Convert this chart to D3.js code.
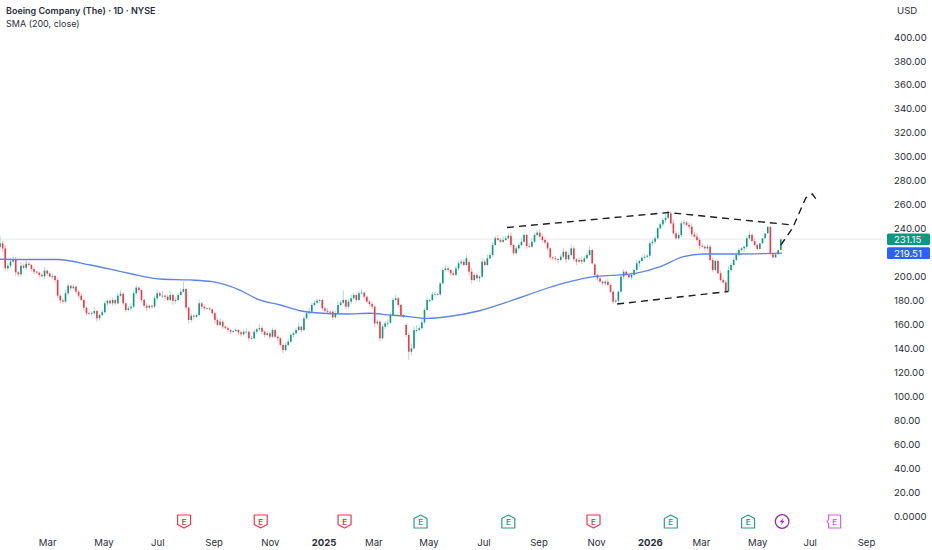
<!DOCTYPE html>
<html>
<head>
<meta charset="utf-8">
<script src="https://d3js.org/d3.v7.min.js"></script>
<style>
  html, body { margin: 0; padding: 0; background: #fff; }
  svg { display: block; }
  text { font-family: "Inter", "Noto Sans", sans-serif; }
</style>
</head>
<body>
<div id="chart"></div>
<script type="text/javascript">

// daily closes, one candle per two sessions
var closes = [
  227.7,223.5,206.8,209,212.4,214.6,203.5,201.8,209,207.3,
  210.7,209.6,206.3,204,203.2,201.3,200.2,204.9,202.4,199.9,
  200.4,197,184,180.1,179,186,192.3,190.2,191.5,187.3,
  184,180.4,173.9,169.3,168.9,169.3,171.2,165.1,167.8,170.1,
  177.6,179.8,177.6,180.4,177.6,184,185.6,177.6,172,173.4,
  174.8,186,190.7,188.7,180.4,175.6,174,175.6,174.8,181.8,
  186,184,184,183.1,180.4,184.6,179.5,180.4,184.6,187.3,
  189.6,174,163.7,167.3,166.4,167.8,177.6,174.8,173.4,173.4,
  172.6,169.3,163.7,159.5,162.3,158.1,156.8,155.3,153.9,154.5,
  155.3,153.4,151.7,153.9,153.9,148.4,148.4,153.9,155.9,157,
  153.9,151.2,152.6,149.7,155.3,149.7,148.4,142.8,138.6,142.8,
  145.6,151.2,152.6,155.3,158.1,155.3,165.1,169.3,170.6,176.2,
  178.1,179.8,180.4,173.4,171.4,170.6,170.6,165.9,169.3,176.2,
  178.1,180.4,174.8,179,181.8,184.6,180.4,186,186.5,183.1,
  179,177,174.8,160.9,162.3,148.4,158.1,160.9,161.4,167.8,
  180.4,181.8,176.2,167.8,166.4,151.2,137.2,140,155.3,155.3,
  156.8,161.7,172,180.4,180.4,185.1,185.4,185,194.3,205.4,
  206.8,205.4,202.7,201.3,206.8,211,212.4,209.6,215.2,204,
  197,201.3,198.5,199.9,212.4,209.6,215.2,218,226.3,231.9,
  230.5,229,230.5,231.9,234,226.3,219.4,223.5,226.3,229,
  234.7,225.5,224.9,229,234.7,236.6,233.3,230.5,228.3,223.5,
  216,215.2,214.6,213.8,216.5,220.7,214.4,218,223.5,214.4,
  212.4,213.8,212.4,215.2,218,222.1,211,201.3,198.5,195.7,
  194.3,195.7,192.9,187.3,179,179.8,187.3,199.9,204,201.3,
  199.3,201.3,205.4,211,213,215.7,216.5,217.4,227.7,229,
  231.9,240.2,243.6,247.2,249,252.8,244.4,236,231.9,234.7,
  244.4,245.2,243,241.6,235.2,233.3,230.5,225.7,224.9,223.5,
  224.9,213.8,205.4,213,202.7,197,195.1,187.9,205.4,209.6,
  213.8,218,222.1,223.5,224.9,231.9,234.7,229.6,226.3,223,
  227.7,231.9,236,241.6,218.6,215.8,218.6,222.1,231.15
];
// how far each wick sticks out of the body, in dollars
var wickUp = [
  6,2,3,2,3,3,2,1,3,2, 3,2,1,2,1,1,2,3,1,2,
  2,1,2,1,2,3,2,1,2,1, 1,2,1,1,1,2,3,1,1,2,
  2,1,2,2,1,2,3,1,1,2, 3,2,2,1,1,1,2,1,1,2,
  3,2,4,1,2,3,1,2,2,3, 6,1,1,2,1,1,3,1,2,1,
  1,1,1,2,3,1,1,2,1,1, 2,1,1,2,3,1,2,2,1,3,
  2,1,2,1,2,1,1,1,1,2, 2,2,1,2,3,1,2,2,3,2,
  2,2,1,1,2,2,1,1,2,3, 2,8,1,2,3,2,2,2,3,1,
  1,1,2,1,2,1,2,2,3,2, 2,3,1,1,1,2,2,4,3,4,
  2,3,2,2,1,2,2,1,1,2, 3,2,1,2,2,2,2,2,3,2,
  3,2,2,1,3,2,3,2,2,2, 3,2,3,2,2,3,1,2,2,3,
  2,1,2,3,2,2,3,2,2,1, 1,1,2,1,2,3,1,2,3,2,
  1,2,3,2,2,3,1,1,1,1, 1,2,3,1,1,2,1,1,2,1,
  1,2,2,3,1,2,2,1,2,2, 2,1,2,2,3,2,2,3,2,2,
  2,2,1,2,3,2,3,2,2,1, 2,2,2,1,1,2,2,2,3,2,
  2,3,2,1,1,2,3,1,2,1
];
var wickDown = [
  2,3,2,2,2,1,3,2,2,1, 2,1,2,2,1,2,1,2,2,1,
  2,2,2,3,2,1,2,2,1,2, 2,1,2,2,1,2,1,3,2,1,
  1,2,1,2,2,1,1,2,2,1, 2,1,1,2,2,2,3,1,2,1,
  2,1,2,2,1,1,3,2,1,1, 1,2,3,2,3,1,1,2,2,1,
  1,2,3,1,1,2,1,2,2,1, 1,2,2,1,1,3,1,1,2,1,
  2,2,1,2,1,1,2,2,3,1, 1,1,2,1,1,2,1,1,1,1,
  1,1,2,2,1,2,3,2,1,1, 1,1,2,1,2,1,2,1,1,2,
  1,2,2,3,2,3,1,2,3,1, 1,1,2,2,1,2,7,3,1,2,
  1,1,1,1,2,1,1,1,1,1, 1,2,2,1,1,2,2,1,1,3,
  3,1,2,3,1,1,1,1,2,1, 1,1,1,1,1,2,2,1,1,1,
  1,2,1,1,1,1,1,2,1,2, 2,2,2,3,1,1,3,1,1,2,
  3,1,2,1,1,1,1,2,2,1, 2,2,1,1,2,1,2,1,2,1,
  1,2,1,1,3,1,1,1,3,2, 2,1,1,2,2,1,1,1,1,1,
  2,2,1,2,2,1,2,3,1,2, 2,1,2,1,1,1,1,2,1,2,
  1,1,1,1,3,2,1,1,1,1
];
var sessionsPerCandle = 2;
// sessions where the open gapped away from the previous close
var gapOpens = { 155: 159.5, 179: 212, 227: 210 };

var smaDays = [0,15,44,69,99,122,145,162,183,198,214,229,246,265,282,298,308,326,341,366,392,418,435,453,473,486,504,521,537,563,597];
var smaValues = [214.4,214.2,214.2,209.6,202.5,197.9,197.1,195.7,188.7,180.4,176.2,171.4,169.3,168.7,169.3,167.8,167,165.1,166.4,171.4,180.4,190.4,195.7,199.9,201.3,202.9,208.2,216.3,218.8,218.8,219.51];

// hand drawn pattern lines on the chart
var upperDays = [387,510,605];
var upperPrices = [240.9,253.4,243];
var lowerDays = [471,556];
var lowerPrices = [177,187.5];
var arrowDays = [596,605,615,620,624];
var arrowPrices = [226.3,240.5,265.6,268.9,263];

var priceTicks = [400,380,360,340,320,300,280,260,240,200,180,160,140,120,100,80,60,40,20,0];
var timeDays = [36,79,120,163,206,247,285,327,369,411,455,496,535,578,618,661];
var timeLabels = ["Mar","May","Jul","Sep","Nov","2025","Mar","May","Jul","Sep","Nov","2026","Mar","May","Jul","Sep"];

var earningsMiss = [140.5,199,263,453];
var earningsBeat = [321,388,512,571];
var dividendDays = [597];
var nextEarnings = [637];

var lastClose = 231.15;
var lastSma = 219.51;

var width = 932, height = 550;
var upColor = "#089981", downColor = "#f23645", smaColor = "#5b83e8", textColor = "#2a2e39";

var svg = d3.select("#chart").append("svg").attr("width", width).attr("height", height);

var x = d3.scaleLinear().domain([0,661]).range([0,866]);
var y = d3.scaleLinear().domain([0,400]).range([516,37]);

// last price line
svg.append("line")
  .attr("x1",0).attr("x2",886)
  .attr("y1",y(lastClose)).attr("y2",y(lastClose))
  .attr("stroke","#f0f0f0").attr("stroke-width",1.5);

var candles = closes.map(function(c,i) {
  var o = gapOpens[i] !== undefined ? gapOpens[i] : (i==0 ? c-3 : closes[i-1]);
  return {
    day: i*sessionsPerCandle, open: o, close: c,
    high: Math.max(o,c)+wickUp[i], low: Math.min(o,c)-wickDown[i]
  };
});

var candle = svg.append("g").style("filter","blur(0.35px)")
  .selectAll("g").data(candles).enter().append("g");
candle.append("line")
  .attr("x1",function(d){return x(d.day);})
  .attr("x2",function(d){return x(d.day);})
  .attr("y1",function(d){return y(d.high);})
  .attr("y2",function(d){return y(d.low);})
  .attr("stroke",function(d){return d.close>=d.open?upColor:downColor;})
  .attr("stroke-opacity",0.45)
  .attr("stroke-width",0.8);
candle.append("rect")
  .attr("x",function(d){return x(d.day)-0.8;})
  .attr("width",1.6)
  .attr("y",function(d){return y(Math.max(d.open,d.close));})
  .attr("height",function(d){return Math.max(0.8,Math.abs(y(d.open)-y(d.close)));})
  .attr("fill",function(d){return d.close>=d.open?upColor:downColor;});

// SMA
var smaLine = d3.line()
  .x(function(d){return x(d[0]);})
  .y(function(d){return y(d[1]);})
  .curve(d3.curveMonotoneX);
svg.append("path")
  .attr("d",smaLine(d3.zip(smaDays,smaValues)))
  .attr("fill","none").attr("stroke",smaColor).attr("stroke-width",1.3);

// dashed pattern
var dashLine = d3.line().x(function(d){return x(d[0]);}).y(function(d){return y(d[1]);});
[[upperDays,upperPrices],[lowerDays,lowerPrices],[arrowDays,arrowPrices]].forEach(function(p) {
  svg.append("path")
    .attr("d",dashLine(d3.zip(p[0],p[1])))
    .attr("fill","none").attr("stroke","#1c1c1c").attr("stroke-width",1.4)
    .attr("stroke-dasharray","7,5");
});

// price axis
var yAxis = d3.axisRight(y).tickValues(priceTicks).tickSize(0)
  .tickFormat(function(d){return d==0?"0.0000":d3.format(".2f")(d);});
var yg = svg.append("g").attr("transform","translate(888,0)").call(yAxis);
yg.select(".domain").remove();
yg.selectAll("text").attr("x",6).attr("fill",textColor).style("font-size","9.6px");

// time axis
var xAxis = d3.axisBottom(x).tickValues(timeDays).tickSize(0)
  .tickFormat(function(d,i){return timeLabels[i];});
var xg = svg.append("g").attr("transform","translate(0,536)").call(xAxis);
xg.select(".domain").remove();
xg.selectAll("text").attr("y",3).attr("fill",textColor).style("font-size","9.6px")
  .style("font-weight",function(d,i){return timeLabels[i].length==4?"700":"400";});

// earnings markers
var markerY = 521.5;
function earnings(days,color,path) {
  var g = svg.append("g").selectAll("g").data(days).enter().append("g")
    .attr("transform",function(d){return "translate("+x(d)+","+markerY+")";});
  g.append("path").attr("d",path).attr("fill","#fff").attr("stroke",color)
    .attr("stroke-width",1.2).attr("stroke-linejoin","round");
  g.append("text").attr("text-anchor","middle").attr("y",3).attr("fill",color)
    .style("font-size","8px").style("font-weight","600").text("E");
}
earnings(earningsMiss,downColor,"M-6.5,-6.5H6.5V3L0,6.5L-6.5,3Z");
earnings(earningsBeat,"#2a9d8a","M0,-6.5L6.5,-3V6.5H-6.5V-3Z");
earnings(nextEarnings,"#e25be8","M-6,-6.5H6V6.5H-6V2L-7.5,0L-6,-2Z");

var div = svg.append("g").selectAll("g").data(dividendDays).enter().append("g")
  .attr("transform",function(d){return "translate("+x(d)+","+markerY+")";});
div.append("circle").attr("r",6.8).attr("fill","#fff").attr("stroke","#9c27b0").attr("stroke-width",1.3);
div.append("path").attr("d","M1.5,-4L-2.5,0.8H0L-1.5,4L2.5,-0.8H0Z").attr("fill","#9c27b0");

// price labels
function priceTag(value,color) {
  var yy = y(value);
  svg.append("rect").attr("x",887).attr("y",yy-5.8).attr("width",43).attr("height",11.6)
    .attr("rx",1.5).attr("fill",color);
  svg.append("text").attr("x",894).attr("y",yy+3.4).attr("fill","#fff")
    .style("font-size","9.6px").text(d3.format(".2f")(value));
}
priceTag(lastClose,upColor);
priceTag(lastSma,"#2962ff");

// headers
svg.append("text").attr("x",6).attr("y",14).attr("fill",textColor)
  .style("font-size","9px").style("font-weight","600")
  .text("Boeing Company (The) · 1D · NYSE");
svg.append("text").attr("x",6).attr("y",26.5).attr("fill",textColor)
  .style("font-size","9px").text("SMA (200, close)");
svg.append("text").attr("x",897).attr("y",14).attr("fill",textColor)
  .style("font-size","9.6px").text("USD");

</script>
</body>
</html>
